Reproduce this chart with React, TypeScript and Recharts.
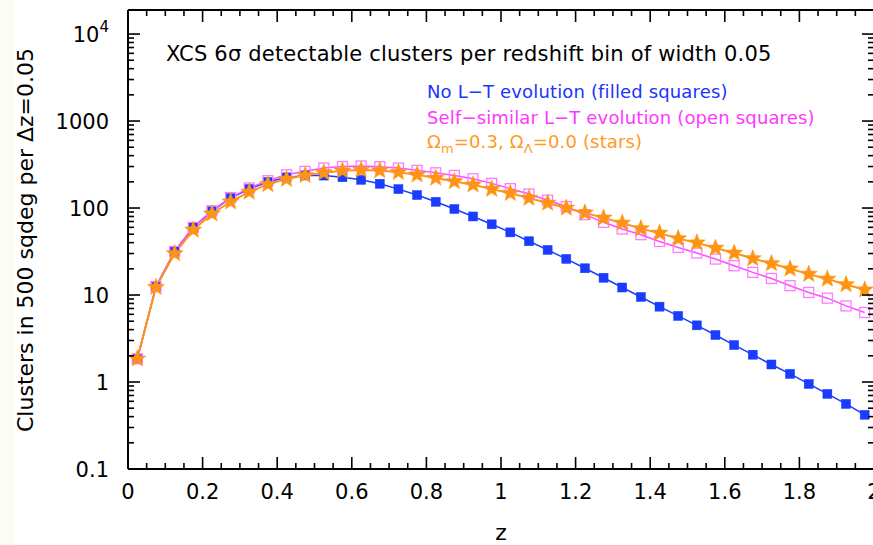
import React from 'react';
import { LineChart, Line, XAxis, YAxis } from 'recharts';

const redshift = [
  0.025, 0.075, 0.125, 0.175, 0.225, 0.275, 0.325, 0.375, 0.425, 0.475,
  0.525, 0.575, 0.625, 0.675, 0.725, 0.775, 0.825, 0.875, 0.925, 0.975,
  1.025, 1.075, 1.125, 1.175, 1.225, 1.275, 1.325, 1.375, 1.425, 1.475,
  1.525, 1.575, 1.625, 1.675, 1.725, 1.775, 1.825, 1.875, 1.925, 1.975,
];

const noEvolution = [
  1.85, 12.5, 31.7, 60, 92, 130, 165, 199, 225, 237,
  236, 226, 211, 190, 165, 141, 118, 97.5, 80, 65,
  52.5, 41.5, 33, 26, 20.3, 15.8, 12.2, 9.5, 7.35, 5.75,
  4.48, 3.47, 2.66, 2.06, 1.59, 1.24, 0.95, 0.73, 0.56, 0.42,
];

const selfSimilar = [
  1.85, 12.5, 31.7, 60, 93, 132, 170, 206, 241, 264,
  288, 300, 304, 299, 288, 271, 254, 237, 217, 192,
  167, 145, 123, 104, 84, 68.5, 57.4, 49.4, 41.3, 35.2,
  30.4, 25.9, 21.7, 18.2, 15.5, 12.8, 10.7, 9.2, 7.5, 6.3,
];

const openCosmology = [
  1.85, 12.3, 30, 56, 86, 118, 153, 187, 215, 238,
  255, 268, 273, 270, 258, 241, 221, 202, 185, 165,
  148, 130, 114, 100, 88, 77, 67.3, 58, 51.5, 44.5,
  39.8, 34.7, 30.4, 26.3, 23, 20, 17.4, 15.3, 13.2, 11.5,
];

const xMajorTicks = [0, 0.2, 0.4, 0.6, 0.8, 1, 1.2, 1.4, 1.6, 1.8, 2];
const xTickLabels = ['0', '0.2', '0.4', '0.6', '0.8', '1', '1.2', '1.4', '1.6', '1.8', '2'];
const xMinorStep = 0.05;

const yMajorTicks = [0.1, 1, 10, 100, 1000, 10000];
const yTickLabels = ['0.1', '1', '10', '100', '1000', '10^4'];
const yMinorMultipliers = [2, 3, 4, 5, 6, 7, 8, 9];

const title = 'XCS 6σ detectable clusters per redshift bin of width 0.05';
const legendNoEvo = 'No L−T evolution (filled squares)';
const legendSelfSim = 'Self−similar L−T evolution (open squares)';
const yLabel = 'Clusters in 500 sqdeg per Δz=0.05';
const xLabel = 'z';

const BLUE = '#1a3cff';
const PINK_LINE = '#ff4dff';
const PINK_MARK = '#ff7cff';
const ORANGE = '#ff9414';
const FONT = '"DejaVu Sans", Verdana, sans-serif';

const data = redshift.map((z, i) => ({
  z,
  noEvo: noEvolution[i],
  selfSim: selfSimilar[i],
  open: openCosmology[i],
}));

const xAllTicks: number[] = [];
for (let i = 0; i <= Math.round(2 / xMinorStep); i++) xAllTicks.push(+(i * xMinorStep).toFixed(2));

const yAllTicks: number[] = [];
yMajorTicks.forEach((d, i) => {
  yAllTicks.push(d);
  if (i < yMajorTicks.length - 1) yMinorMultipliers.forEach((m) => yAllTicks.push(+(m * d).toPrecision(3)));
});

const idxOf = (arr: number[], v: number) => arr.findIndex((a) => Math.abs(a - v) < 1e-9 * Math.max(1, Math.abs(a)));

const MAJOR = 12;
const MINOR = 6;

const BottomTick = (props: any) => {
  const { x, y, payload } = props;
  const mi = idxOf(xMajorTicks, payload.value);
  return (
    <g>
      <line x1={x} x2={x} y1={y} y2={y - (mi >= 0 ? MAJOR : MINOR)} stroke="#000" strokeWidth={1.6} />
      {mi >= 0 && (
        <text x={x} y={y + 30} textAnchor="middle" fontFamily={FONT} fontSize={21} fill="#000">
          {xTickLabels[mi]}
        </text>
      )}
    </g>
  );
};

const TopTick = (props: any) => {
  const { x, y, payload } = props;
  const mi = idxOf(xMajorTicks, payload.value);
  return <line x1={x} x2={x} y1={y} y2={y + (mi >= 0 ? MAJOR : MINOR)} stroke="#000" strokeWidth={1.6} />;
};

const LeftTick = (props: any) => {
  const { x, y, payload } = props;
  const mi = idxOf(yMajorTicks, payload.value);
  let label: React.ReactNode = null;
  if (mi >= 0) {
    const s = yTickLabels[mi];
    const parts = s.split('^');
    label = (
      <text x={x - 19} y={y + 7.6} textAnchor="end" fontFamily={FONT} fontSize={21} fill="#000">
        {parts[0]}
        {parts.length > 1 && (
          <tspan dy={-10} fontSize={15}>
            {parts[1]}
          </tspan>
        )}
      </text>
    );
  }
  return (
    <g>
      <line x1={x} x2={x + (mi >= 0 ? MAJOR : MINOR)} y1={y} y2={y} stroke="#000" strokeWidth={1.6} />
      {label}
    </g>
  );
};

const RightTick = (props: any) => {
  const { x, y, payload } = props;
  const mi = idxOf(yMajorTicks, payload.value);
  return <line x1={x} x2={x - (mi >= 0 ? MAJOR : MINOR)} y1={y} y2={y} stroke="#000" strokeWidth={1.6} />;
};

const SquareDot = (props: any) => {
  const { cx, cy, index } = props;
  if (cx == null || cy == null) return <g key={index} />;
  return <rect key={index} x={cx - 4.5} y={cy - 4.5} width={9} height={9} fill={BLUE} stroke={BLUE} strokeWidth={0.5} />;
};

const OpenSquareDot = (props: any) => {
  const { cx, cy, index } = props;
  if (cx == null || cy == null) return <g key={index} />;
  return <rect key={index} x={cx - 5} y={cy - 5} width={10} height={10} fill="none" stroke={PINK_MARK} strokeWidth={1.3} />;
};

const StarDot = (props: any) => {
  const { cx, cy, index } = props;
  if (cx == null || cy == null) return <g key={index} />;
  const R = 9;
  const r = 3.8;
  const pts: string[] = [];
  for (let k = 0; k < 10; k++) {
    const rad = k % 2 === 0 ? R : r;
    const a = -Math.PI / 2 + (k * Math.PI) / 5;
    pts.push(`${(cx + rad * Math.cos(a)).toFixed(2)},${(cy + rad * Math.sin(a)).toFixed(2)}`);
  }
  return <polygon key={index} points={pts.join(' ')} fill={ORANGE} stroke={ORANGE} strokeWidth={0.5} />;
};

const axisLine = { stroke: '#000', strokeWidth: 2 };

export default function App() {
  return (
    <div style={{ position: 'absolute', left: 0, top: 0, width: 873, height: 545, overflow: 'hidden', background: '#ffffff' }}>
      <div style={{ position: 'absolute', left: 0, top: 0, width: 14, height: 545, background: '#fcfcf4' }} />
      <div style={{ position: 'absolute', left: 0, top: 0 }}>
        <LineChart width={880} height={545} data={data} margin={{ top: 9, right: 0, bottom: 0, left: 0 }}>
          <XAxis
            xAxisId="bottom"
            orientation="bottom"
            dataKey="z"
            type="number"
            domain={[0, 2]}
            allowDataOverflow
            ticks={xAllTicks}
            interval={0}
            height={76}
            tickSize={0}
            tickMargin={0}
            tickLine={false}
            axisLine={axisLine}
            tick={BottomTick}
          />
          <XAxis
            xAxisId="top"
            orientation="top"
            dataKey="z"
            type="number"
            domain={[0, 2]}
            allowDataOverflow
            ticks={xAllTicks}
            interval={0}
            height={1}
            tickSize={0}
            tickMargin={0}
            tickLine={false}
            axisLine={axisLine}
            tick={TopTick}
          />
          <YAxis
            yAxisId="left"
            orientation="left"
            type="number"
            scale="log"
            domain={[0.1, 18900]}
            allowDataOverflow
            ticks={yAllTicks}
            interval={0}
            width={128}
            tickSize={0}
            tickMargin={0}
            tickLine={false}
            axisLine={axisLine}
            tick={LeftTick}
          />
          <YAxis
            yAxisId="right"
            orientation="right"
            type="number"
            scale="log"
            domain={[0.1, 18900]}
            allowDataOverflow
            ticks={yAllTicks}
            interval={0}
            width={6}
            tickSize={0}
            tickMargin={0}
            tickLine={false}
            axisLine={axisLine}
            tick={RightTick}
          />
          <Line
            xAxisId="bottom"
            yAxisId="left"
            dataKey="noEvo"
            stroke={BLUE}
            strokeWidth={1.5}
            dot={SquareDot}
            activeDot={false}
            isAnimationActive={false}
          />
          <Line
            xAxisId="bottom"
            yAxisId="left"
            dataKey="selfSim"
            stroke={PINK_LINE}
            strokeWidth={1.5}
            dot={OpenSquareDot}
            activeDot={false}
            isAnimationActive={false}
          />
          <Line
            xAxisId="bottom"
            yAxisId="left"
            dataKey="open"
            stroke={ORANGE}
            strokeWidth={2}
            dot={StarDot}
            activeDot={false}
            isAnimationActive={false}
          />
        </LineChart>
      </div>
      <svg style={{ position: 'absolute', left: 0, top: 0, pointerEvents: 'none' }} width={873} height={545}>
        <text x={166} y={61} fontFamily={FONT} fontSize={21} letterSpacing={0.2} fill="#000">
          {title}
        </text>
        <text x={427} y={98} fontFamily={FONT} fontSize={18} letterSpacing={0.15} fill="#1a35ff">
          {legendNoEvo}
        </text>
        <text x={427} y={124} fontFamily={FONT} fontSize={18} letterSpacing={0.15} fill="#ff38ff">
          {legendSelfSim}
        </text>
        <text x={427} y={148} fontFamily={FONT} fontSize={18} letterSpacing={0.15} fill="#ff9a22">
          Ω<tspan dy={5} fontSize={13}>m</tspan>
          <tspan dy={-5}>=0.3, Ω</tspan>
          <tspan dy={5} fontSize={13}>Λ</tspan>
          <tspan dy={-5}>=0.0 (stars)</tspan>
        </text>
        <text
          transform="rotate(-90)"
          x={-240}
          y={33}
          textAnchor="middle"
          fontFamily={FONT}
          fontSize={22}
          fill="#000"
        >
          {yLabel}
        </text>
        <text x={501} y={540} textAnchor="middle" fontFamily={FONT} fontSize={22} fill="#000">
          {xLabel}
        </text>
      </svg>
    </div>
  );
}
